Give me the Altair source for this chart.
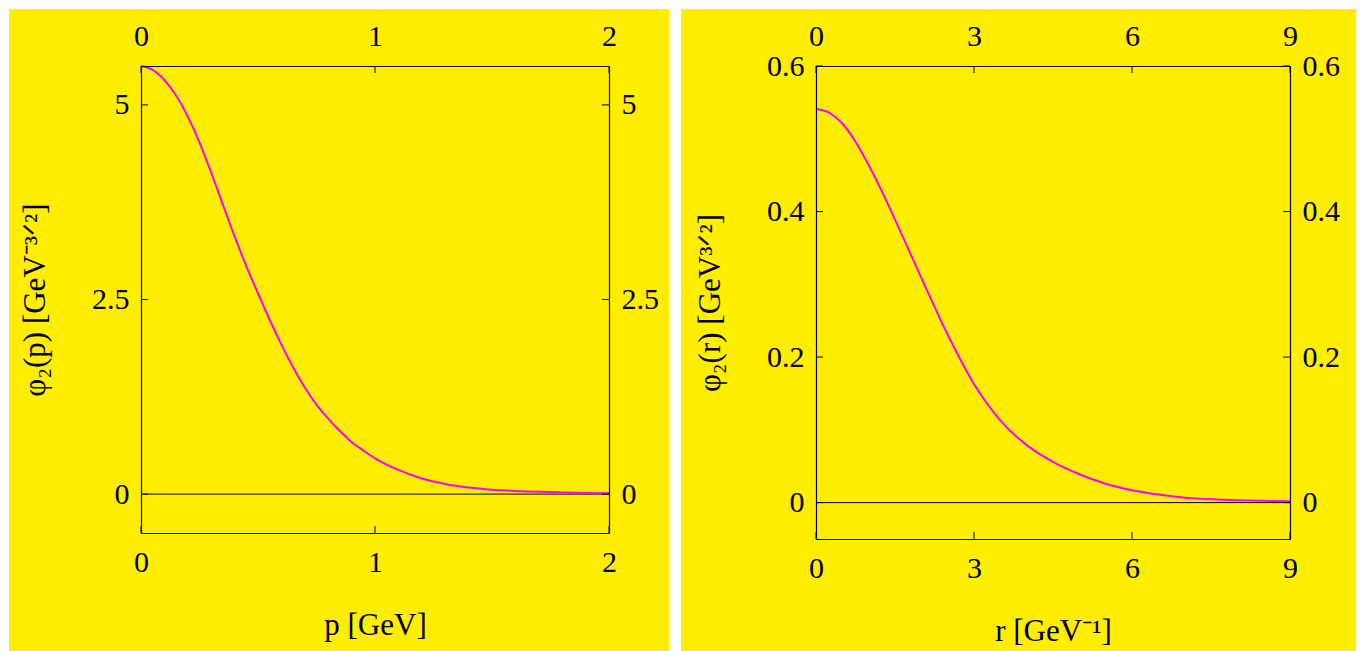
import altair as alt
import pandas as pd

# ---- data ----
P = [0, 0.05, 0.1, 0.15, 0.2, 0.25, 0.3, 0.35, 0.4, 0.45, 0.5, 0.55, 0.6, 0.65,
     0.7, 0.75, 0.8, 0.85, 0.9, 0.95, 1.0, 1.1, 1.2, 1.3, 1.4, 1.5, 1.6, 1.7,
     1.8, 1.9, 2.0]
PHI_P = [5.50, 5.45, 5.32, 5.12, 4.85, 4.52, 4.13, 3.72, 3.31, 2.93, 2.58, 2.24,
         1.92, 1.63, 1.37, 1.15, 0.97, 0.81, 0.67, 0.56, 0.46, 0.31, 0.20, 0.13,
         0.085, 0.057, 0.040, 0.029, 0.021, 0.014, 0.010]

R = [0, 0.25, 0.5, 0.75, 1.0, 1.25, 1.5, 1.75, 2.0, 2.5, 3.0, 3.5, 4.0, 4.5,
     5.0, 5.5, 6.0, 6.5, 7.0, 7.5, 8.0, 8.5, 9.0]
PHI_R = [0.541, 0.536, 0.521, 0.496, 0.464, 0.428, 0.389, 0.349, 0.309, 0.231,
         0.163, 0.113, 0.079, 0.056, 0.039, 0.026, 0.017, 0.011, 0.0068, 0.0045,
         0.0032, 0.0025, 0.002]

P_TICKS = [0, 1, 2]
PHI_P_TICKS = [0, 2.5, 5]
R_TICKS = [0, 3, 6, 9]
PHI_R_TICKS = [0, 0.2, 0.4, 0.6]

FONT = "Liberation Serif"
YELLOW = "#FFEE00"
MAGENTA = "#FF00FF"
TICK = 7


def panel(xs, ys, xdom, ydom, xticks, yticks, xtitle, ytitle, W, H, bg):
    common = dict(labelFont=FONT, labelFontSize=30, labelColor="black",
                  titleFont=FONT, titleFontSize=31, titleColor="black",
                  titleFontWeight="normal", domainColor="black", domainWidth=1.2,
                  ticks=False, grid=False, zindex=1, format=".3~g")
    xscale = alt.Scale(domain=xdom, nice=False, zero=False)
    yscale = alt.Scale(domain=ydom, nice=False, zero=False)

    bgrect = alt.Chart(pd.DataFrame({"k": [0]})).mark_rect(color=YELLOW).encode(
        x=alt.value(bg[0]), x2=alt.value(bg[1]),
        y=alt.value(bg[2]), y2=alt.value(bg[3]))

    zero = alt.Chart(pd.DataFrame({"z": [0]})).mark_rule(
        color="black", strokeWidth=1).encode(
        y=alt.Y("z:Q", scale=yscale, axis=None))

    curve = alt.Chart(pd.DataFrame({"xv": xs, "yv": ys})).mark_line(
        color=MAGENTA, strokeWidth=2, interpolate="monotone").encode(
        x=alt.X("xv:Q", scale=xscale, title=xtitle,
                axis=alt.Axis(orient="bottom", values=xticks, labelPadding=14,
                              titlePadding=33, labelFlush=False, **common)),
        y=alt.Y("yv:Q", scale=yscale, title=ytitle,
                axis=alt.Axis(orient="left", values=yticks, labelPadding=12,
                              titlePadding=40, **common)))

    xt = pd.DataFrame({"tx": xticks})
    yt = pd.DataFrame({"ty": yticks})

    xt_bottom = alt.Chart(xt).mark_rule(color="black", strokeWidth=1).encode(
        x=alt.X("tx:Q", scale=xscale, title="",
                axis=alt.Axis(orient="top", values=xticks, labelPadding=15,
                              titlePadding=0, labelFlush=False, **common)),
        y=alt.value(H - TICK), y2=alt.value(H))
    xt_top = alt.Chart(xt).mark_rule(color="black", strokeWidth=1).encode(
        x=alt.X("tx:Q", scale=xscale, axis=None),
        y=alt.value(0), y2=alt.value(TICK))
    yt_left = alt.Chart(yt).mark_rule(color="black", strokeWidth=1).encode(
        y=alt.Y("ty:Q", scale=yscale, title="",
                axis=alt.Axis(orient="right", values=yticks, labelPadding=12,
                              titlePadding=0, **common)),
        x=alt.value(0), x2=alt.value(TICK))
    yt_right = alt.Chart(yt).mark_rule(color="black", strokeWidth=1).encode(
        y=alt.Y("ty:Q", scale=yscale, axis=None),
        x=alt.value(W - TICK), x2=alt.value(W))

    return alt.layer(bgrect, zero, curve, xt_bottom, xt_top, yt_left, yt_right).resolve_axis(
        x="independent", y="independent").properties(width=W, height=H)


left = panel(P, PHI_P, [0, 2], [-0.5, 5.5], P_TICKS, PHI_P_TICKS,
             "p [GeV]", "φ₂(p) [GeV⁻³ᐟ²]", 468, 467, (-132, 528, -57, 586))
right = panel(R, PHI_R, [0, 9], [-0.05, 0.6], R_TICKS, PHI_R_TICKS,
              "r [GeV⁻¹]", "φ₂(r) [GeV³ᐟ²]", 474, 473, (-135, 540, -57, 586))

chart = alt.hconcat(left, right, spacing=10).properties(
    padding=0, background="white").configure_view(stroke="transparent")

chart.save("out.html", embed_options={"renderer": "svg", "actions": False})
